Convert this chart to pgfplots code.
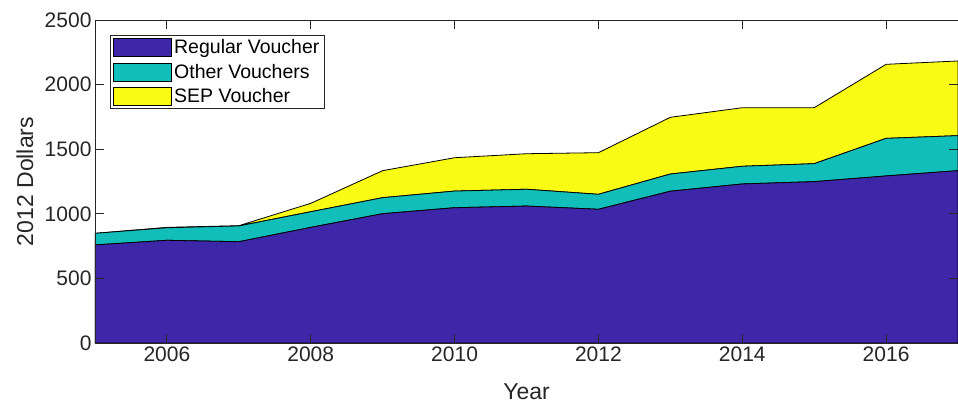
\documentclass[border=0pt]{standalone}
\usepackage{fontspec}
\setmainfont{Liberation Sans}
\usepackage{pgfplots}
\pgfplotsset{compat=1.18}
\definecolor{pblue}{rgb}{0.2422,0.1504,0.6603}
\definecolor{pteal}{rgb}{0.0704,0.7457,0.7258}
\definecolor{pyellow}{rgb}{0.9769,0.9839,0.0805}
\definecolor{axgray}{rgb}{0.15,0.15,0.15}
\begin{document}
\begin{tikzpicture}
\path[use as bounding box] (-95pt,-62pt) rectangle (863pt,343pt);
\begin{axis}[
    scale only axis,
    anchor=origin, at={(0pt,0pt)},
    width=863pt, height=323pt,
    xmin=2005, xmax=2017, ymin=0, ymax=2500,
    xtick={2006,2008,...,2016},
    ytick={0,500,...,2500},
    stack plots=y,
    axis on top,
    tick align=inside,
    major tick length=9pt,
    axis line style={axgray, line width=0.9pt},
    every tick/.style={axgray, line width=0.9pt},
    tick label style={font=\fontsize{21}{23}\selectfont, text=axgray},
    /pgf/number format/1000 sep={},
    /pgf/number format/assume math mode=true,
    xlabel={Year}, ylabel={2012 Dollars},
    label style={font=\fontsize{23}{25}\selectfont, text=axgray},
    xlabel style={at={(axis description cs:0.5,-0.1517)}, anchor=center},
    ylabel style={at={(axis description cs:-0.0811,0.5)}, anchor=center},
    legend cell align=left,
    legend style={at={(axis description cs:0.0174,0.9536)}, anchor=north west,
        font=\fontsize{19.5}{21}\selectfont, draw=axgray, line width=0.9pt,
        row sep=5pt, inner xsep=3pt, inner ysep=2pt},
    legend image code/.code={\draw[#1, draw=black, line width=0.7pt] (0pt,-9pt) rectangle (58pt,9pt);},
]
\addplot[fill=pblue, draw=black, line width=0.8pt] coordinates {
(2005,759)(2006,795)(2007,784)(2008,895)(2009,1001)(2010,1047)(2011,1060)
(2012,1035)(2013,1175)(2014,1231)(2015,1249)(2016,1293)(2017,1334)
} \closedcycle;
\addplot[fill=pteal, draw=black, line width=0.8pt] coordinates {
(2005,90)(2006,97)(2007,122)(2008,121)(2009,124)(2010,129)(2011,130)
(2012,116)(2013,133)(2014,137)(2015,139)(2016,291)(2017,271)
} \closedcycle;
\addplot[fill=pyellow, draw=black, line width=0.8pt] coordinates {
(2005,0)(2006,3)(2007,2)(2008,65)(2009,209)(2010,258)(2011,275)
(2012,322)(2013,439)(2014,453)(2015,433)(2016,573)(2017,578)
} \closedcycle;
\legend{Regular Voucher, Other Vouchers, SEP Voucher}
\end{axis}
\end{tikzpicture}
\end{document}
